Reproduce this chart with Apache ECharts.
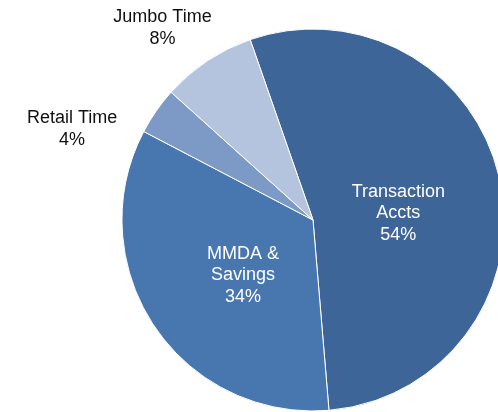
<!DOCTYPE html>
<html>
<head>
<meta charset="utf-8">
<script src="https://cdn.jsdelivr.net/npm/echarts@6/dist/echarts.min.js"></script>
<style>
  html, body { margin: 0; padding: 0; background: #fff; }
  #main { width: 498px; height: 412px; }
</style>
</head>
<body>
<div id="main"></div>
<script>
  // 数据
  const categories = ['Transaction\nAccts', 'MMDA &\nSavings', 'Retail Time', 'Jumbo Time']
  const values = [54, 34, 4, 8]

  // 颜色 & 标签微调（样式，不是数据）
  const colors = ['#3e6597', '#4877b0', '#7d9ac6', '#b4c3de']
  const labelColors = ['#ffffff', '#ffffff', '#111111', '#111111']
  const labelNudge = [[-11, 14], [12, 1], [-160, -35], [-96, -110]]

  const chart = echarts.init(document.getElementById('main'))

  const option = {
    animation: false,
    series: [{
      type: 'pie',
      center: [313, 220],
      radius: 191,
      startAngle: 109.2,
      clockwise: true,
      avoidLabelOverlap: false,
      itemStyle: {
        borderColor: '#ffffff',
        borderWidth: 1
      },
      label: {
        show: true,
        position: 'inside',
        formatter: '{b}\n{c}%',
        fontFamily: 'Liberation Sans, Arial, sans-serif',
        fontSize: 18,
        lineHeight: 21.5,
        align: 'center'
      },
      labelLine: { show: false },
      labelLayout: (params) => ({
        dx: labelNudge[params.dataIndex][0],
        dy: labelNudge[params.dataIndex][1]
      }),
      emphasis: { disabled: true },
      data: categories.map((name, i) => ({
        name,
        value: values[i],
        itemStyle: { color: colors[i] },
        label: { color: labelColors[i] }
      }))
    }]
  }

  chart.setOption(option)
</script>
</body>
</html>
